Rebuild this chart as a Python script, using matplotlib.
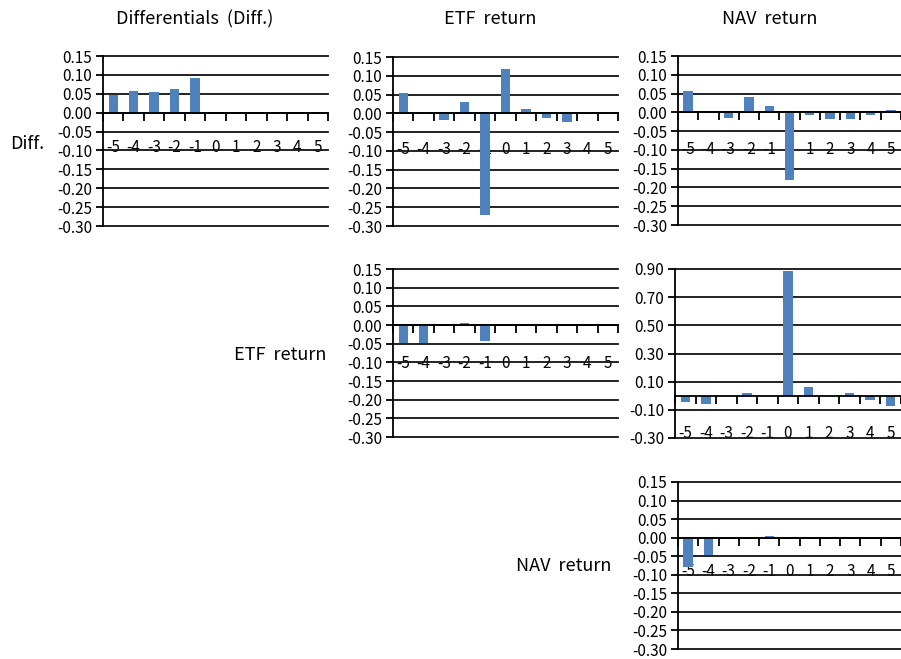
import numpy as np
import matplotlib
matplotlib.use("Agg")
import matplotlib.pyplot as plt

plt.rcParams['font.family'] = ['Noto Sans CJK KR', 'DejaVu Sans']

W, H = 901, 659

lags = [-5, -4, -3, -2, -1, 0, 1, 2, 3, 4, 5]
lag_labels = ['-5', '-4', '-3', '-2', '-1', '0', '1', '2', '3', '4', '5']

# responses by (row variable, column variable)
diff_diff = [0.046, 0.058, 0.054, 0.063, 0.093, 0, 0, 0, 0, 0, 0]
diff_etf = [0.054, 0.004, -0.018, 0.030, -0.271, 0.119, 0.012, -0.012, -0.023, 0.004, 0.004]
diff_nav = [0.057, 0.0, -0.014, 0.042, 0.017, -0.179, -0.007, -0.019, -0.019, -0.007, 0.006]
etf_etf = [-0.049, -0.049, 0, 0.005, -0.043, 0, 0, 0, 0, 0, 0]
etf_nav = [-0.045, -0.061, 0, 0.017, 0, 0.887, 0.061, 0, 0.017, -0.031, -0.075]
nav_nav = [-0.079, -0.046, 0, 0, 0.005, 0, 0, 0, 0, 0, 0]

small_ticks = [-0.30, -0.25, -0.20, -0.15, -0.10, -0.05, 0.00, 0.05, 0.10, 0.15]
big_ticks = [-0.30, -0.10, 0.10, 0.30, 0.50, 0.70, 0.90]

col_titles = ['Differentials  (Diff.)', 'ETF  return', 'NAV  return']
row_titles = ['Diff.', 'ETF  return', 'NAV  return']

BLUE = '#4F81BD'

fig = plt.figure(figsize=(W / 100, H / 100), dpi=100)


def panel(left, right, top, bottom, vals, yticks, lab_off):
    ax = fig.add_axes([left / W, 1 - bottom / H, (right - left) / W, (bottom - top) / H])
    x = np.arange(len(lags))
    ax.bar(x, vals, width=0.46, color=BLUE, zorder=3)
    ax.set_xlim(-0.5, len(lags) - 0.5)
    ax.set_ylim(yticks[0], yticks[-1])
    ax.set_yticks(yticks)
    ax.set_yticklabels(['%.2f' % t for t in yticks])
    ax.grid(axis='y', color='#111111', linewidth=1.3, zorder=1)
    for gl in ax.get_ygridlines():
        gl.set_clip_on(False)
    for s in ['top', 'right']:
        ax.spines[s].set_visible(False)
    ax.spines['bottom'].set_position(('data', 0))
    ax.spines['bottom'].set_linewidth(1.3)
    ax.spines['left'].set_linewidth(1.3)
    ax.spines['bottom'].set_zorder(4)
    # boundary ticks between lags, labels centred on the lag
    ax.set_xticks(np.arange(-0.5, len(lags), 1.0))
    ax.set_xticklabels([])
    ax.set_xticks(x, minor=True)
    ax.set_xticklabels(lag_labels, minor=True)
    ax.tick_params(axis='x', which='major', direction='out', length=6, width=1.3)
    ax.tick_params(axis='x', which='minor', length=0, pad=(lab_off - 7) * 0.72, labelsize=11)
    ax.tick_params(axis='y', direction='out', length=5, width=1.3, labelsize=11, pad=3)
    ax.patch.set_alpha(0)
    return ax


panel(103, 328, 56, 226, diff_diff, small_ticks, 33)
panel(393, 618, 57, 226, diff_etf, small_ticks, 35)
panel(678, 901, 56, 225, diff_nav, small_ticks, 36)
panel(393, 618, 269, 437, etf_etf, small_ticks, 37)
panel(675, 901, 269, 438, etf_nav, big_ticks, 36)
panel(678, 901, 482, 649, nav_nav, small_ticks, 32)

col_x = [195, 490, 770]
for cx, t in zip(col_x, col_titles):
    fig.text(cx / W, 1 - 19 / H, t, ha='center', va='center', fontsize=13)

row_pos = [(44, 144), (326, 355), (611, 566)]
for (rx, ry), t in zip(row_pos, row_titles):
    fig.text(rx / W, 1 - ry / H, t, ha='right', va='center', fontsize=13)

fig.savefig('out.png', dpi=100)
